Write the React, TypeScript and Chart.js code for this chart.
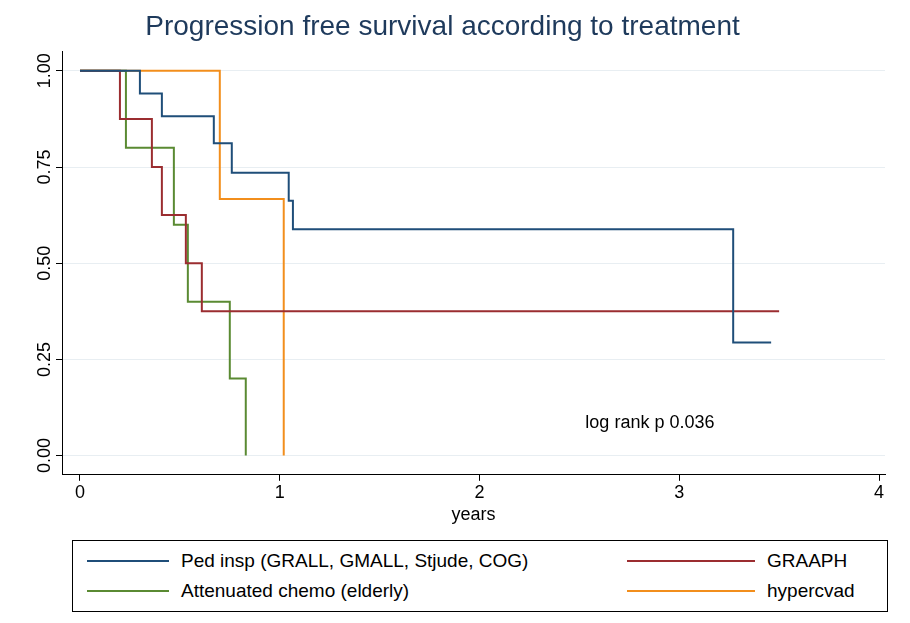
import { useEffect, useRef } from 'react';
import Chart from 'chart.js/auto';

const pedX = [0, 0.3, 0.41, 0.67, 0.76, 1.045, 1.066, 3.27, 3.46];
const pedY = [1, 0.941, 0.882, 0.812, 0.735, 0.662, 0.588, 0.294, 0.294];
const graX = [0, 0.2, 0.36, 0.41, 0.53, 0.61, 3.5];
const graY = [1, 0.875, 0.75, 0.625, 0.5, 0.375, 0.375];
const attX = [0, 0.23, 0.47, 0.54, 0.75, 0.83];
const attY = [1, 0.8, 0.6, 0.4, 0.2, 0];
const hypX = [0, 0.7, 1.02];
const hypY = [1, 0.667, 0];
const yTicks = [0, 0.25, 0.5, 0.75, 1];

const pts = (xs: number[], ys: number[]) => xs.map((x, i) => ({ x, y: ys[i] }));

const FONT = 'Arial, "Liberation Sans", sans-serif';

const extras = {
  id: 'extras',
  afterDraw(chart: any) {
    const { ctx, scales } = chart;
    ctx.save();
    ctx.fillStyle = '#000';
    ctx.font = `18px ${FONT}`;
    ctx.textAlign = 'center';
    ctx.textBaseline = 'middle';
    for (const t of yTicks) {
      const py = scales.y.getPixelForValue(t);
      ctx.save();
      ctx.translate(45, py);
      ctx.rotate(-Math.PI / 2);
      ctx.fillText(t.toFixed(2), 0, 0);
      ctx.restore();
    }
    ctx.textAlign = 'left';
    ctx.fillText('log rank p 0.036', scales.x.getPixelForValue(2.53), scales.y.getPixelForValue(0.085));
    ctx.restore();
  },
};

const App = () => {
  const ref = useRef<HTMLCanvasElement>(null);

  useEffect(() => {
    document.body.style.margin = '0';
    const ds = (label: string, data: any, color: string) => ({
      label, data, borderColor: color, borderWidth: 2, stepped: 'before' as const,
      pointRadius: 0, fill: false,
    });
    const chart = new Chart(ref.current!, {
      type: 'line',
      data: {
        datasets: [
          ds('Ped insp', pts(pedX, pedY), '#1f4e79'),
          ds('GRAAPH', pts(graX, graY), '#9b2d30'),
          ds('Attenuated', pts(attX, attY), '#5a8a32'),
          ds('hypercvad', pts(hypX, hypY), '#f28e1c'),
        ],
      },
      options: {
        animation: false,
        responsive: false,
        layout: { padding: { left: 0, right: 20, top: 0, bottom: 0 } },
        plugins: {
          legend: { display: false },
          tooltip: { enabled: false },
          title: {
            display: true, text: 'Progression free survival according to treatment',
            color: '#1e3a5c', font: { family: FONT, size: 28, weight: 'normal' },
            padding: { top: 10, bottom: 8 },
          },
        },
        scales: {
          x: {
            type: 'linear', min: -0.09, max: 4.03,
            afterBuildTicks: (s: any) => { s.ticks = [0, 1, 2, 3, 4].map(v => ({ value: v })); },
            grid: { drawOnChartArea: false, color: '#000', tickLength: 6 },
            border: { color: '#000' },
            ticks: { color: '#000', font: { family: FONT, size: 18 }, maxRotation: 0, padding: 1 },
            title: { display: true, text: 'years', color: '#000', font: { family: FONT, size: 18 }, padding: 0 },
          },
          y: {
            min: -0.05, max: 1.05,
            afterBuildTicks: (s: any) => { s.ticks = yTicks.map(v => ({ value: v })); },
            grid: { color: '#e8eef2', tickLength: 6, tickColor: '#000' },
            border: { color: '#000' },
            ticks: { color: 'transparent', font: { family: FONT, size: 17 }, padding: 10 },
            afterFit: (s: any) => { s.width = 62; },
          },
        },
      },
      plugins: [extras],
    });
    return () => chart.destroy();
  }, []);

  const item = (color: string, text: string, lineW: number) => (
    <div style={{ display: 'flex', alignItems: 'center' }}>
      <div style={{ width: lineW, height: 2, background: color, marginRight: 12 }} />
      <span>{text}</span>
    </div>
  );

  return (
    <div style={{ width: 910, height: 623, background: '#fff', fontFamily: FONT, position: 'relative' }}>
      <canvas ref={ref} width={905} height={526} />
      <div style={{
        position: 'absolute', left: 72, top: 540, width: 816, height: 72,
        border: '1px solid #000', fontSize: 19, display: 'grid',
        gridTemplateColumns: '540px 270px', alignContent: 'center', rowGap: 8, paddingLeft: 14,
        boxSizing: 'border-box',
      }}>
        {item('#1f4e79', 'Ped insp (GRALL, GMALL, Stjude, COG)', 82)}
        {item('#9b2d30', 'GRAAPH', 128)}
        {item('#5a8a32', 'Attenuated chemo (elderly)', 82)}
        {item('#f28e1c', 'hypercvad', 128)}
      </div>
    </div>
  );
};

export default App;
